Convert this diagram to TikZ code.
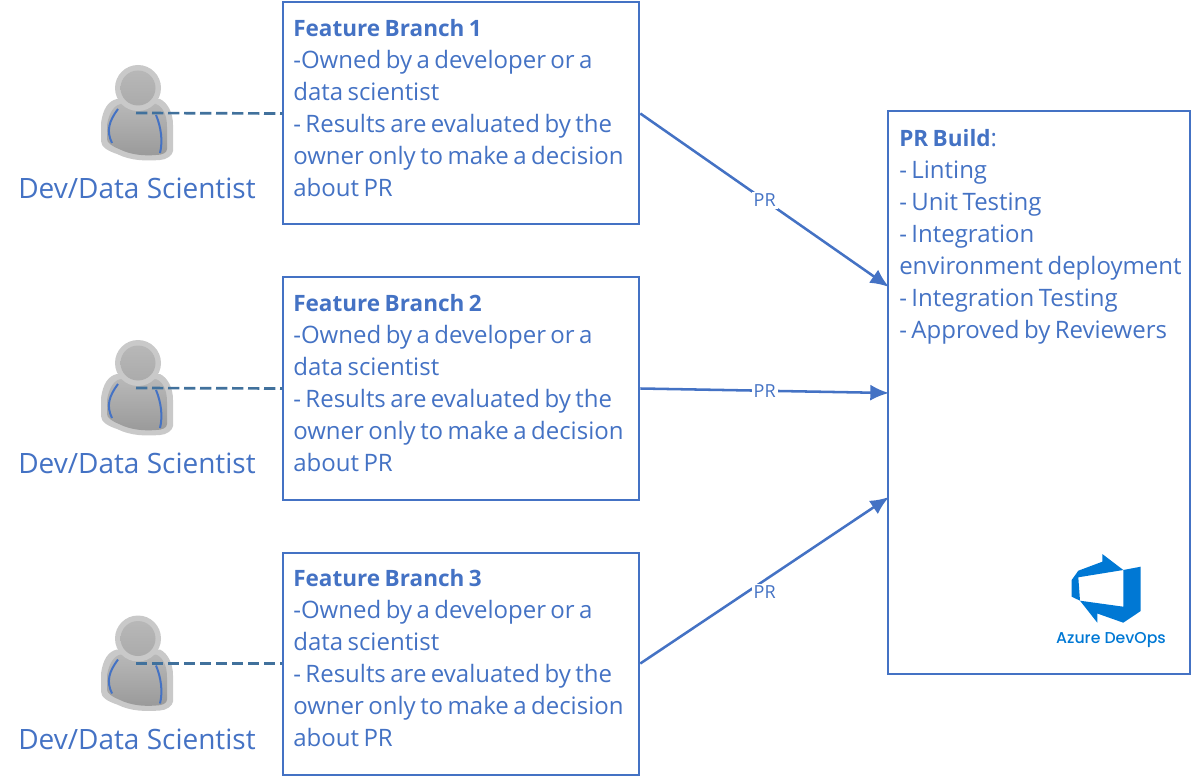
\documentclass[tikz,border=0pt]{standalone}
\usepackage{fontspec}
\setmainfont{Open Sans}
\newfontfamily\logofont{Poppins Medium}
\usepackage{tikz}
\usetikzlibrary{arrows.meta,positioning,calc}
\definecolor{textblue}{HTML}{4472C4}
\definecolor{dashblue}{HTML}{41719C}
\definecolor{logoblue}{HTML}{0078D4}
\definecolor{bodyout}{HTML}{C9C9C9}
\definecolor{bodyin}{HTML}{ABABAB}
\newcommand{\boxfont}{\fontsize{18pt}{24pt}\selectfont}
\newcommand{\boldhead}[1]{{\fontsize{16.9pt}{24pt}\selectfont\textbf{#1}}}
\newcommand{\branchtext}[1]{\boldhead{Feature Branch #1}\\-Owned by a developer or a\\data scientist\\- Results are evaluated by the\\owner only to make a decision\\about PR\par\vspace{7.5pt}}
\tikzstyle{branch} = [rectangle, draw=textblue, line width=1.5pt, text=textblue, inner xsep=7.5pt, inner ysep=0pt, text width=252pt, minimum width=267pt, minimum height=166.5pt, align=left, execute at begin node=\boxfont]
\tikzstyle{build} = [rectangle, draw=textblue, line width=1.5pt, minimum width=226.5pt, minimum height=421.5pt]
\tikzstyle{buildtext} = [text=textblue, inner sep=0pt, text width=215pt, align=left, execute at begin node=\boxfont]
\tikzstyle{devlabel} = [text=textblue, inner sep=0pt, execute at begin node=\fontsize{21pt}{24pt}\selectfont]
\tikzstyle{line} = [draw=textblue, line width=1.9pt, -{Latex[length=14pt,width=12pt]}]
\tikzstyle{dashline} = [draw=dashblue, line width=2pt, dash pattern=on 8.5pt off 3.5pt]
\tikzstyle{prlabel} = [fill=white, text=textblue, inner sep=1.5pt, execute at begin node=\fontsize{13.5pt}{15pt}\selectfont]
\tikzset{person/.pic={
	% body and head, origin at the end of the dashed line
	\fill[bodyout] (-35,10) .. controls (-33,-4) and (-28,-12) .. (-19,-14) -- (24,-14) .. controls (32,-10) and (37,0) .. (37,12) -- (37,38) .. controls (37,42) and (30,47) .. (24,47) .. controls (10,48) and (-5,48) .. (-19,41) .. controls (-28,38) and (-35,34) .. (-35,28) -- cycle;
	\shade[top color=bodyin!85!white, bottom color=bodyin!90!black] (-29,12) .. controls (-27,0) and (-22,-8) .. (-15,-9) -- (20,-9) .. controls (27,-6) and (31,2) .. (31,14) -- (31,36) .. controls (31,40) and (26,42) .. (20,42) .. controls (8,43) and (-5,42) .. (-17,36) .. controls (-24,33) and (-29,30) .. (-29,26) -- cycle;
	\fill[bodyout] (2,-25) circle[radius=23];
	\shade[top color=bodyin!85!white, bottom color=bodyin] (2,-25) circle[radius=17.5];
	\draw[textblue, line width=1.5pt] (-18,-4) .. controls (-27,8) and (-30,18) .. (-24,30);
	\draw[textblue, line width=1.5pt] (20,2) .. controls (25,14) and (27,28) .. (24,40);
}}

\begin{document}
\begin{tikzpicture}[x=0.75pt, y=-0.75pt]
	\useasboundingbox (0,0) rectangle (1192,777);
	% First column
	\node [branch, anchor=north west] (Branch1) at (282.3,1.5) {\branchtext{1}};
	\node [branch, below of=Branch1, node distance=206.25pt] (Branch2) {\branchtext{2}};
	\node [branch, below of=Branch2, node distance=206.25pt] (Branch3) {\branchtext{3}};

	% People
	\coordinate (Dev1) at (136,113);
	\coordinate (Dev2) at (136,388);
	\coordinate (Dev3) at (136,663.5);
	\foreach \n in {1,2,3} {
		\pic at (Dev\n) {person};
		\node [devlabel, anchor=center] (Label\n) at ($(Dev\n)+(1,75.5)$) {Dev/Data Scientist};
		\path [dashline] (Dev\n) -- (Branch\n.west);
	}

	% Build box
	\node [build, anchor=north west] (Build) at (887.3,110.5) {};
	\node [buildtext, anchor=north west] (BuildText) at (899,129) {\boldhead{PR Build}:\\- Linting\\- Unit Testing\\- Integration\\environment deployment\\- Integration Testing\\- Approved by Reviewers};
	\coordinate (In1) at (889,287);
	\coordinate (In2) at (889,393);
	\coordinate (In3) at (889,497);

	% Logo
	\fill [logoblue, even odd rule] (1102.3,554) -- (1123.3,570) -- (1140.7,566.7) -- (1140.7,611) -- (1123.3,622.7) -- (1097.3,613.5) -- (1097.3,622.7) -- (1080,600.7) -- (1071.7,596.7) -- (1071.7,580) -- (1078.3,570.7) -- (1102.3,561.7) -- cycle
		(1078.3,577.3) -- (1123.3,570) -- (1123.3,606.7) -- (1080,600.7) -- cycle;
	\node [text=logoblue, inner sep=0pt, font=\logofont\fontsize{11.8pt}{13pt}\selectfont] (Logo) at (1111,640) {Azure DevOps};

	% Paths
	\path [line] (Branch1.east) -- node[prlabel]{PR} (In1);
	\path [line] (Branch2.east) -- node[prlabel]{PR} (In2);
	\path [line] (Branch3.east) -- node[prlabel, yshift=-9pt]{PR} (In3);
\end{tikzpicture}
\end{document}
